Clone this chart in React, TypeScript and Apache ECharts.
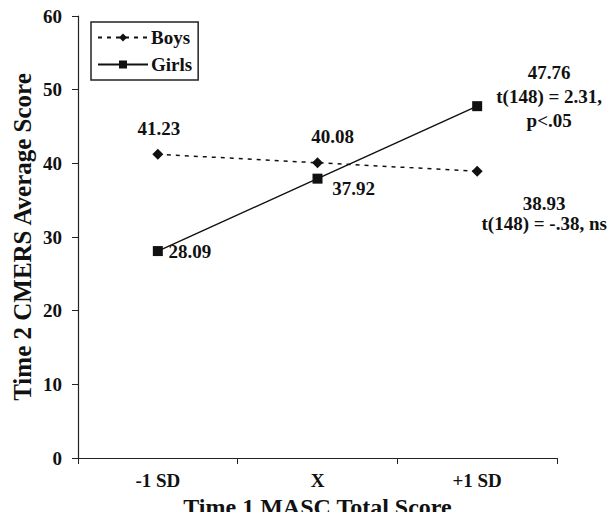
import React, { useEffect, useRef } from "react";
import * as echarts from "echarts";

const categories = ["-1 SD", "X", "+1 SD"];
const boysValues = [41.23, 40.08, 38.93];
const girlsValues = [28.09, 37.92, 47.76];
const boysLabels = ["41.23", "40.08", "38.93\nt(148) = -.38, ns"];
const girlsLabels = ["28.09", "37.92", "47.76\nt(148) = 2.31,\np<.05"];
const boysOffsets = [[1, -26], [15, -26], [67, 42]];
const girlsOffsets = [[32, 0], [36, 10], [72, -10]];
const boysLineHeights = [20, 20, 20];
const girlsLineHeights = [24, 24, 24];

const FONT = '"Liberation Serif", "Times New Roman", serif';

export default function App() {
  const ref = useRef<HTMLDivElement>(null);
  useEffect(() => {
    if (!ref.current) return;
    const chart = echarts.init(ref.current, null, { renderer: "svg" });
    const mk = (vals: number[], labels: string[], offs: number[][], lhs: number[]) =>
      vals.map((v, i) => ({
        value: v,
        label: {
          show: true,
          position: "inside",
          offset: offs[i],
          formatter: labels[i],
          lineHeight: lhs[i],
          align: "center",
          verticalAlign: "middle",
        },
      }));
    const labelStyle = {
      color: "#111",
      fontFamily: FONT,
      fontWeight: "bold",
      fontSize: 19,
    };
    chart.setOption({
      animation: false,
      backgroundColor: "#fff",
      grid: { left: 78, right: 58, top: 16, bottom: 62, containLabel: false, outerBoundsMode: "none" },
      legend: {
        orient: "vertical",
        left: 91,
        top: 22,
        itemGap: 8,
        itemWidth: 50,
        itemHeight: 10,
        padding: [6, 6, 6, 6],
        borderColor: "#222",
        borderWidth: 1.5,
        borderRadius: 0,
        textStyle: { ...labelStyle, color: "#111", padding: [0, 0, 0, -2] },
        data: ["Boys", "Girls"],
      },
      xAxis: {
        type: "category",
        data: categories,
        boundaryGap: true,
        name: "Time 1 MASC Total Score",
        nameLocation: "middle",
        nameGap: 37,
        nameMoveOverlap: false,
        nameTextStyle: { ...labelStyle, fontSize: 24, lineHeight: 24 },
        axisLine: { lineStyle: { color: "#222", width: 1.2 } },
        axisTick: { show: true, length: 6, lineStyle: { color: "#222" } },
        axisLabel: { ...labelStyle, fontSize: 19, margin: 13 },
        splitLine: { show: false },
      },
      yAxis: {
        type: "value",
        min: 0,
        max: 60,
        interval: 10,
        name: "Time 2 CMERS Average Score",
        nameLocation: "middle",
        nameGap: 43,
        nameMoveOverlap: false,
        nameTextStyle: { ...labelStyle, fontSize: 25 },
        axisLine: { show: true, lineStyle: { color: "#222", width: 1.2 } },
        axisTick: { show: true, length: 6, lineStyle: { color: "#222" } },
        axisLabel: { ...labelStyle, fontSize: 19, margin: 16 },
        splitLine: { show: false },
      },
      series: [
        {
          name: "Boys",
          type: "line",
          data: mk(boysValues, boysLabels, boysOffsets, boysLineHeights),
          symbol: "diamond",
          symbolSize: 11,
          itemStyle: { color: "#111" },
          lineStyle: { color: "#111", width: 1.5, type: [4, 5] },
          label: labelStyle,
        },
        {
          name: "Girls",
          type: "line",
          data: mk(girlsValues, girlsLabels, girlsOffsets, girlsLineHeights),
          symbol: "rect",
          symbolSize: 10,
          itemStyle: { color: "#111" },
          lineStyle: { color: "#111", width: 1.5, type: "solid" },
          label: labelStyle,
        },
      ],
    });
    return () => chart.dispose();
  }, []);
  return <div ref={ref} style={{ width: 615, height: 520, margin: -8 }} />;
}
